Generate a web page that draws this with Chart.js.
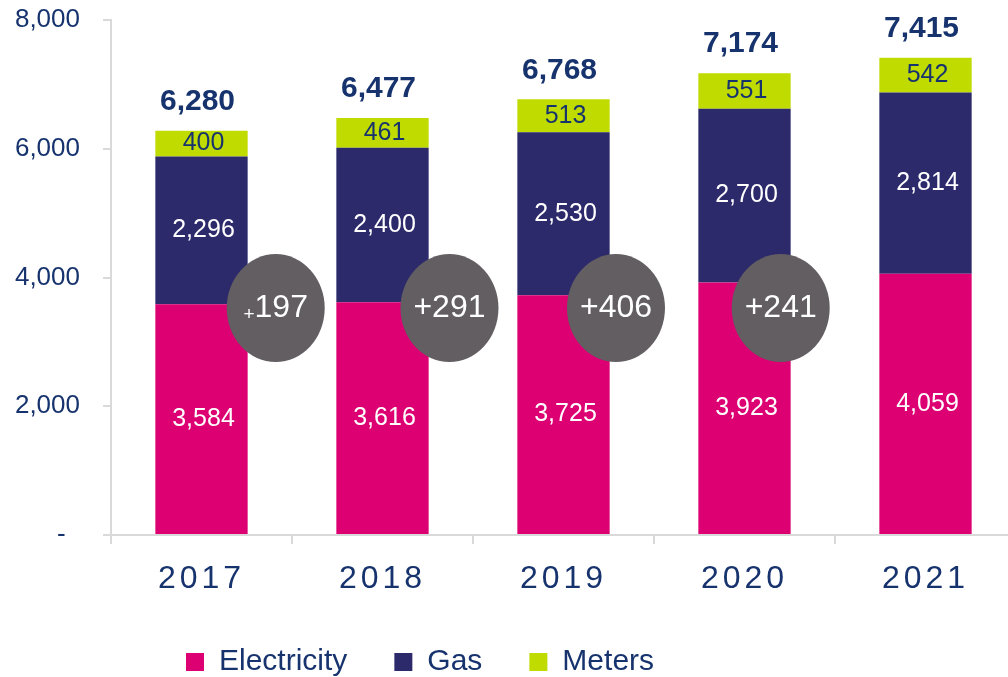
<!DOCTYPE html>
<html>
<head>
<meta charset="utf-8">
<script src="https://cdn.jsdelivr.net/npm/chart.js@4/dist/chart.umd.min.js"></script>
<style>
    html, body { margin: 0; padding: 0; background: #fff; overflow: hidden; }
    #wrap { width: 1016px; height: 677px; }
</style>
</head>
<body>
<div id="wrap"><canvas id="salesChart"></canvas></div>
<script>
var years = ["2017", "2018", "2019", "2020", "2021"];
var electricity = [3584, 3616, 3725, 3923, 4059];
var gas = [2296, 2400, 2530, 2700, 2814];
var meters = [400, 461, 513, 551, 542];
var yTicks = [0, 2000, 4000, 6000, 8000];

var navy = "#17336E";

var totals = [];
for (var i = 0; i < years.length; i++) {
    totals.push(electricity[i] + gas[i] + meters[i]);
}
var changes = [];
for (var i = 1; i < totals.length; i++) {
    changes.push(totals[i] - totals[i - 1]);
}

function fmt(v) {
    return v.toLocaleString("en-US");
}

// values inside the bars and totals on top
var labelsPlugin = {
    id: "barLabels",
    afterDatasetsDraw: function(chart) {
        var ctx = chart.ctx;
        ctx.save();
        ctx.textAlign = "center";
        ctx.textBaseline = "middle";
        ctx.font = "25px 'Liberation Sans', Arial, sans-serif";
        chart.data.datasets.forEach(function(ds, d) {
            var meta = chart.getDatasetMeta(d);
            ctx.fillStyle = d === 2 ? navy : "#fff";
            meta.data.forEach(function(bar, i) {
                ctx.fillText(fmt(ds.data[i]), bar.x + 2, (bar.y + bar.base) / 2);
            });
        });
        var top = chart.getDatasetMeta(2);
        ctx.font = "bold 30px 'Liberation Sans', Arial, sans-serif";
        ctx.fillStyle = navy;
        top.data.forEach(function(bar, i) {
            ctx.fillText(fmt(totals[i]), bar.x - 4, bar.y - 29);
        });
        ctx.restore();
    }
};

// grey bubbles with year on year growth
var bubblePlugin = {
    id: "growthBubbles",
    afterDatasetsDraw: function(chart, args, opts) {
        var ctx = chart.ctx;
        var xs = chart.scales.x, ys = chart.scales.y;
        var cy = ys.getPixelForValue(opts.level);
        ctx.save();
        changes.forEach(function(v, i) {
            var cx = xs.getPixelForValue(i + opts.offsets[i]);
            ctx.beginPath();
            ctx.ellipse(cx, cy, opts.rx, opts.ry, 0, 0, Math.PI * 2);
            ctx.fillStyle = opts.color;
            ctx.fill();
            ctx.fillStyle = "#fff";
            ctx.textBaseline = "middle";
            var big = "32px 'Liberation Sans', Arial, sans-serif";
            if (i === 0) {
                // first one has a small plus sign
                var small = "19px 'Liberation Sans', Arial, sans-serif";
                ctx.font = small;
                var w1 = ctx.measureText("+").width;
                ctx.font = big;
                var w2 = ctx.measureText(String(v)).width;
                var x0 = cx - (w1 + w2) / 2;
                ctx.textAlign = "left";
                ctx.font = small;
                ctx.fillText("+", x0, cy + 7);
                ctx.font = big;
                ctx.fillText(String(v), x0 + w1, cy);
            } else {
                ctx.textAlign = "center";
                ctx.font = big;
                ctx.fillText("+" + v, cx, cy);
            }
        });
        ctx.restore();
    }
};

// spaced year labels and legend placement
var layoutPlugin = {
    id: "tweaks",
    afterLayout: function(chart) {
        var xs = chart.scales.x;
        if (!xs._spaced) {
            var orig = xs.drawLabels;
            xs.drawLabels = function(area) {
                this.ctx.save();
                this.ctx.letterSpacing = "4px";
                orig.call(this, area);
                this.ctx.restore();
            };
            xs._spaced = true;
        }
        chart.legend.left += 139;
        chart.legend.right += 139;
        chart.legend.top += 5;
        chart.legend.bottom += 5;
    }
};

var ctx = document.getElementById("salesChart");
var salesChart = new Chart(ctx, {
    type: "bar",
    data: {
        labels: years,
        datasets: [
            { label: "Electricity", data: electricity, backgroundColor: "#DC0073" },
            { label: "Gas", data: gas, backgroundColor: "#2C2A6B" },
            { label: "Meters", data: meters, backgroundColor: "#BFDB00" }
        ]
    },
    options: {
        responsive: true,
        maintainAspectRatio: false,
        animation: false,
        datasets: { bar: { barPercentage: 0.51, categoryPercentage: 1, borderWidth: 0 } },
        layout: { padding: { top: 20, left: 0, right: 0, bottom: 0 } },
        scales: {
            x: {
                stacked: true,
                afterFit: function(scale) { scale.height = 60; },
                grid: { drawOnChartArea: false, drawTicks: true, tickLength: 9, color: "#D9D9D9", lineWidth: 2 },
                border: { color: "#D9D9D9", width: 2 },
                ticks: {
                    color: navy,
                    padding: 16,
                    font: { family: "'Liberation Sans', Arial, sans-serif", size: 32 }
                }
            },
            y: {
                stacked: true,
                min: 0,
                max: 8000,
                afterFit: function(scale) {
                    scale.width = 111;
                    scale.paddingTop = 0;
                    scale.paddingBottom = 0;
                },
                afterBuildTicks: function(scale) {
                    scale.ticks = yTicks.map(function(v) { return { value: v }; });
                },
                grid: { drawOnChartArea: false, drawTicks: true, tickLength: 8, color: "#D9D9D9", lineWidth: 2 },
                border: { color: "#D9D9D9", width: 2 },
                ticks: {
                    color: navy,
                    padding: 23,
                    font: { family: "'Liberation Sans', Arial, sans-serif", size: 26 },
                    callback: function(v) { return v === 0 ? "-  " : fmt(v); }
                }
            }
        },
        plugins: {
            legend: {
                position: "bottom",
                align: "start",
                maxHeight: 82,
                labels: {
                    color: navy,
                    boxWidth: 18,
                    boxHeight: 18,
                    padding: 47,
                    font: { family: "'Liberation Sans', Arial, sans-serif", size: 30 }
                }
            },
            tooltip: { enabled: false },
            growthBubbles: {
                offsets: [0.41, 0.37, 0.29, 0.20],
                level: 3525,
                rx: 49,
                ry: 54,
                color: "#625E62"
            }
        }
    },
    plugins: [labelsPlugin, bubblePlugin, layoutPlugin]
});
</script>
</body>
</html>
